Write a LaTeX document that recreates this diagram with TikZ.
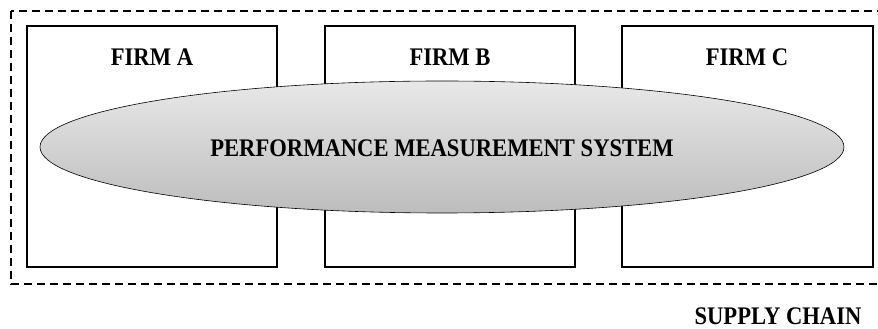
\documentclass[tikz,border=0pt]{standalone}
\usepackage{fontspec}
\setmainfont{Liberation Serif}
\usetikzlibrary{shapes.geometric}
\newcommand\talltxt[1]{\scalebox{1}[1.12]{#1}}
\begin{document}
\begin{tikzpicture}[x=1pt,y=1pt,
  firmbox/.style={draw=black,line width=2pt,minimum width=250pt,minimum height=241pt,inner sep=0pt},
  lbl/.style={font=\fontsize{22.6}{26}\selectfont\bfseries,inner sep=0pt},
  chain/.style={draw=black,line width=2pt,dash pattern=on 8pt off 5pt}]
\useasboundingbox (0,0) rectangle (878,329);
\clip (0,0) rectangle (878,329);
\draw[chain] (11,318) rectangle (890,45);
\node[firmbox] (fa) at (152,182.5) {};
\node[firmbox] (fb) at (450,182.5) {};
\node[firmbox,minimum width=251pt] (fc) at (747.5,182.5) {};
\node[lbl] (la) at (152,272) {\talltxt{FIRM A}};
\node[lbl] (lb) at (450,272) {\talltxt{FIRM B}};
\node[lbl] (lc) at (747,272) {\talltxt{FIRM C}};
\node[ellipse,draw=black,line width=0.6pt,top color=black!9,bottom color=black!26,
      minimum width=804pt,minimum height=132pt,inner sep=0pt] (pms) at (442,182) {};
\node[lbl] (lp) at (442,181) {\talltxt{PERFORMANCE MEASUREMENT SYSTEM}};
\node[lbl] (sc) at (778,13) {\talltxt{SUPPLY CHAIN}};
\end{tikzpicture}
\end{document}
